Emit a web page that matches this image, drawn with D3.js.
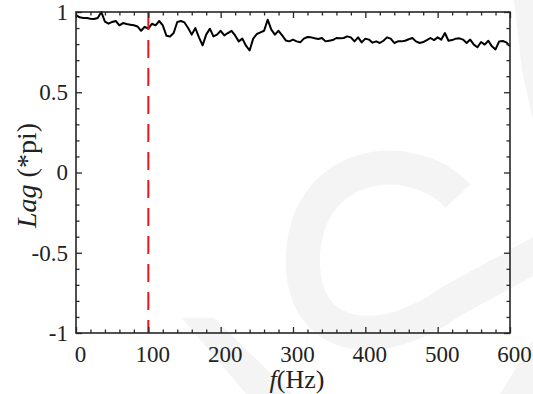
<!DOCTYPE html>
<html>
<head>
<meta charset="utf-8">
<script src="https://cdn.jsdelivr.net/npm/d3@7"></script>
<style>
  html, body { margin: 0; padding: 0; background: #fff; }
  svg { display: block; }
</style>
</head>
<body>
<svg id="chart" width="533" height="394"></svg>
<script>
// Frequency grid (Hz)
const freq = [
  0, 5, 10, 15, 20, 25, 30, 35, 40, 45, 50, 55, 60, 65, 70, 75, 80, 85, 90, 95,
  100, 105, 110, 115, 120, 125, 130, 135, 140, 145, 150, 155, 160, 165, 170, 175, 180, 185, 190, 195,
  200, 205, 210, 215, 220, 225, 230, 235, 240, 245, 250, 255, 260, 265, 270, 275, 280, 285, 290, 295,
  300, 305, 310, 315, 320, 325, 330, 335, 340, 345, 350, 355, 360, 365, 370, 375, 380, 385, 390, 395,
  400, 405, 410, 415, 420, 425, 430, 435, 440, 445, 450, 455, 460, 465, 470, 475, 480, 485, 490, 495,
  500, 505, 510, 515, 520, 525, 530, 535, 540, 545, 550, 555, 560, 565, 570, 575, 580, 585, 590, 595,
  600
];

// Phase lag in units of pi
const lag = [
  0.980, 0.967, 0.963, 0.963, 0.958, 0.956, 0.963, 1.000, 0.940, 0.927, 0.938, 0.944, 0.917, 0.931, 0.925, 0.921, 0.917, 0.910, 0.883, 0.908,
  0.896, 0.927, 0.917, 0.944, 0.917, 0.852, 0.848, 0.869, 0.938, 0.944, 0.935, 0.900, 0.859, 0.900, 0.842, 0.792, 0.859, 0.896, 0.848, 0.859,
  0.883, 0.854, 0.869, 0.883, 0.854, 0.817, 0.834, 0.790, 0.760, 0.834, 0.863, 0.873, 0.883, 0.952, 0.890, 0.859, 0.883, 0.854, 0.823, 0.817,
  0.828, 0.817, 0.811, 0.834, 0.844, 0.842, 0.836, 0.832, 0.838, 0.817, 0.821, 0.825, 0.838, 0.836, 0.838, 0.848, 0.842, 0.817, 0.842, 0.811,
  0.834, 0.828, 0.809, 0.817, 0.807, 0.821, 0.842, 0.834, 0.807, 0.817, 0.817, 0.821, 0.830, 0.838, 0.817, 0.807, 0.813, 0.825, 0.838, 0.825,
  0.842, 0.828, 0.869, 0.821, 0.825, 0.834, 0.836, 0.828, 0.807, 0.828, 0.797, 0.780, 0.813, 0.797, 0.821, 0.786, 0.767, 0.817, 0.819, 0.811,
  0.786
];

// Reference frequency marked by the dashed line
const markerFreq = [100];

// Axis ticks
const xTicks = [0, 100, 200, 300, 400, 500, 600];
const xMinorTicks = [20, 40, 60, 80, 120, 140, 160, 180, 220, 240, 260, 280, 320, 340, 360, 380, 420, 440, 460, 480, 520, 540, 560, 580];
const yTicks = [-1, -0.5, 0, 0.5, 1];
const yMinorTicks = [-0.9, -0.8, -0.7, -0.6, -0.4, -0.3, -0.2, -0.1, 0.1, 0.2, 0.3, 0.4, 0.6, 0.7, 0.8, 0.9];
const yTickLabels = ["-1", "-0.5", "0", "0.5", "1"];

const SERIF = "Liberation Serif";

const svg = d3.select("#chart").attr("font-family", SERIF);
const margin = { left: 76, top: 12, right: 23, bottom: 61 };
const W = 533, H = 394;
const innerW = W - margin.left - margin.right;
const innerH = H - margin.top - margin.bottom;

// Faint background logo
svg.append("path")
  .attr("d", "M 458 196 C 410 145 300 160 303 265 C 305 345 385 350 450 302 L 545 250")
  .attr("fill", "none")
  .attr("stroke", "#f4f4f4")
  .attr("stroke-width", 34);
svg.append("path")
  .attr("d", "M 182 318 L 214 318 L 292 394 L 246 394 Z")
  .attr("fill", "#f4f4f4");
svg.append("path")
  .attr("d", "M 514 0 L 533 0 L 533 120 L 522 70 Z")
  .attr("fill", "#f4f4f4");
svg.append("path")
  .attr("d", "M 500 394 L 533 340 L 533 394 Z")
  .attr("fill", "#f4f4f4");

const g = svg.append("g").attr("transform", `translate(${margin.left},${margin.top})`);

const x = d3.scaleLinear().domain([0, 600]).range([0, innerW]);
const y = d3.scaleLinear().domain([-1, 1]).range([innerH, 0]);

// Data line
const line = d3.line().x((d, i) => x(freq[i])).y(d => y(d));
g.append("path")
  .datum(lag)
  .attr("fill", "none")
  .attr("stroke", "#000")
  .attr("stroke-width", 2)
  .attr("stroke-linejoin", "round")
  .attr("d", line);

// Dashed marker
g.selectAll("line.marker")
  .data(markerFreq)
  .enter().append("line")
  .attr("class", "marker")
  .attr("x1", d => x(d)).attr("x2", d => x(d))
  .attr("y1", y(1)).attr("y2", y(-1))
  .attr("stroke", "#e8161b")
  .attr("stroke-width", 2)
  .attr("stroke-dasharray", "18,10");

const axisColor = "#262626";
function styleAxis(sel) {
  sel.attr("font-family", null).attr("font-size", null);
  sel.select(".domain").remove();
  sel.selectAll("line").attr("stroke", axisColor).attr("stroke-width", 1.3);
  sel.selectAll("text")
    .attr("font-family", SERIF)
    .attr("font-size", 23)
    .attr("fill", "#222");
}

// Bottom axis (ticks point inward)
const bottom = g.append("g").attr("transform", `translate(0,${innerH})`)
  .call(d3.axisBottom(x).tickValues(xTicks).tickSizeInner(-6).tickSizeOuter(0).tickPadding(13).tickFormat(d3.format("d")));
styleAxis(bottom);
bottom.selectAll("text").attr("dx", 4);
g.append("g").attr("transform", `translate(0,${innerH})`)
  .call(d3.axisBottom(x).tickValues(xMinorTicks).tickSizeInner(-3.5).tickSizeOuter(0).tickFormat(""))
  .call(styleAxis);

// Top axis
g.append("g")
  .call(d3.axisTop(x).tickValues(xTicks).tickSizeInner(-6).tickSizeOuter(0).tickFormat(""))
  .call(styleAxis);
g.append("g")
  .call(d3.axisTop(x).tickValues(xMinorTicks).tickSizeInner(-3.5).tickSizeOuter(0).tickFormat(""))
  .call(styleAxis);

// Left axis
const left = g.append("g")
  .call(d3.axisLeft(y).tickValues(yTicks).tickSizeInner(-6).tickSizeOuter(0).tickPadding(8)
    .tickFormat((d, i) => yTickLabels[i]));
styleAxis(left);
g.append("g")
  .call(d3.axisLeft(y).tickValues(yMinorTicks).tickSizeInner(-3.5).tickSizeOuter(0).tickFormat(""))
  .call(styleAxis);

// Right axis
g.append("g").attr("transform", `translate(${innerW},0)`)
  .call(d3.axisRight(y).tickValues(yTicks).tickSizeInner(-6).tickSizeOuter(0).tickFormat(""))
  .call(styleAxis);
g.append("g").attr("transform", `translate(${innerW},0)`)
  .call(d3.axisRight(y).tickValues(yMinorTicks).tickSizeInner(-3.5).tickSizeOuter(0).tickFormat(""))
  .call(styleAxis);

// Frame
g.append("rect")
  .attr("x", 0).attr("y", 0)
  .attr("width", innerW).attr("height", innerH)
  .attr("fill", "none")
  .attr("stroke", axisColor)
  .attr("stroke-width", 1.6);

// Axis titles
const xt = svg.append("text")
  .attr("x", 297)
  .attr("y", 388)
  .attr("text-anchor", "middle")
  .attr("font-family", SERIF)
  .attr("font-size", 26)
  .attr("fill", "#222");
xt.append("tspan").attr("font-style", "italic").text("f");
xt.append("tspan").text("(Hz)");

const yt = svg.append("text")
  .attr("transform", `translate(36,${margin.top + innerH / 2 + 3}) rotate(-90)`)
  .attr("text-anchor", "middle")
  .attr("font-family", SERIF)
  .attr("font-size", 28)
  .attr("fill", "#222");
yt.append("tspan").attr("font-style", "italic").text("Lag");
yt.append("tspan").text(" (*pi)");
</script>
</body>
</html>
